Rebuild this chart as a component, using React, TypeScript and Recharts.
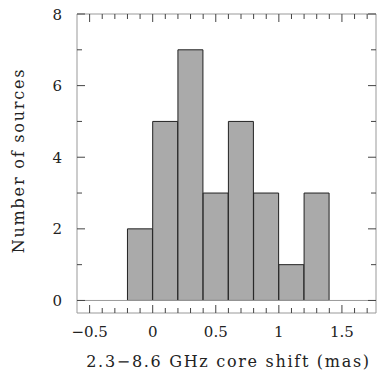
import React from 'react';
import { BarChart, Bar, XAxis, YAxis, ReferenceLine } from 'recharts';

const binCenters = [-0.1, 0.1, 0.3, 0.5, 0.7, 0.9, 1.1, 1.3];
const counts = [2, 5, 7, 3, 5, 3, 1, 3];
const xTicks = [-0.5, -0.4, -0.3, -0.2, -0.1, 0, 0.1, 0.2, 0.3, 0.4, 0.5, 0.6, 0.7, 0.8, 0.9, 1, 1.1, 1.2, 1.3, 1.4, 1.5, 1.6, 1.7];
const xMajorValues = [-0.5, 0, 0.5, 1, 1.5];
const xMajorLabels = ['\u22120.5', '0', '0.5', '1', '1.5'];
const yTicks = [0, 1, 2, 3, 4, 5, 6, 7, 8];
const yMajorValues = [0, 2, 4, 6, 8];
const yMajorLabels = ['0', '2', '4', '6', '8'];
const xTitle = '2.3\u22128.6 GHz core shift (mas)';
const yTitle = 'Number of sources';

const data = binCenters.map((c, i) => ({ center: c, count: counts[i] }));

const FONT = '"DejaVu Serif", serif';
const TICK = '#444';
const FRAME = '#999';

const majorIndex = (vals: number[], v: number) => vals.findIndex((m) => Math.abs(m - v) < 1e-6);

const BottomTick = (p: any) => {
  const { x, y, payload } = p;
  const i = majorIndex(xMajorValues, payload.value);
  const len = i >= 0 ? 8 : 5;
  return (
    <g>
      <line x1={x} x2={x} y1={y} y2={y - len} stroke={TICK} />
      {i >= 0 && (
        <text x={x} y={y + 24} textAnchor="middle" fontFamily={FONT} fontSize={15} fill="#222">
          {xMajorLabels[i]}
        </text>
      )}
    </g>
  );
};

const TopTick = (p: any) => {
  const { x, y, payload } = p;
  const i = majorIndex(xMajorValues, payload.value);
  const len = i >= 0 ? 8 : 5;
  return <line x1={x} x2={x} y1={y} y2={y + len} stroke={TICK} />;
};

const LeftTick = (p: any) => {
  const { x, y, payload } = p;
  const i = majorIndex(yMajorValues, payload.value);
  const len = i >= 0 ? 8 : 5;
  return (
    <g>
      <line x1={x} x2={x + len} y1={y} y2={y} stroke={TICK} />
      {i >= 0 && (
        <text x={x - 15} y={y + 5.5} textAnchor="end" fontFamily={FONT} fontSize={15} fill="#222">
          {yMajorLabels[i]}
        </text>
      )}
    </g>
  );
};

const RightTick = (p: any) => {
  const { x, y, payload } = p;
  const i = majorIndex(yMajorValues, payload.value);
  const len = i >= 0 ? 8 : 5;
  return <line x1={x} x2={x - len} y1={y} y2={y} stroke={TICK} />;
};

const XTitle = (p: any) => {
  const vb = p.viewBox || { x: 77, y: 313, width: 299, height: 61 };
  return (
    <text x={vb.x + vb.width / 2 + 2} y={vb.y + 54} textAnchor="middle" fontFamily={FONT} fontSize={16} letterSpacing={1.7} fill="#222">
      {xTitle}
    </text>
  );
};

const YTitle = (p: any) => {
  const vb = p.viewBox || { x: 0, y: 14, width: 77, height: 299 };
  const cx = vb.x + 24;
  const cy = vb.y + vb.height / 2 - 3;
  return (
    <text x={cx} y={cy} transform={`rotate(-90 ${cx} ${cy})`} textAnchor="middle" fontFamily={FONT} fontSize={16} letterSpacing={1.8} fill="#222">
      {yTitle}
    </text>
  );
};

export default function App() {
  return (
    <div style={{ position: 'absolute', left: 0, top: 0 }}>
      <BarChart width={378} height={374} data={data} margin={{ top: 13, right: 1, bottom: 0, left: 0 }} barCategoryGap={0} barGap={0}>
        <XAxis
          dataKey="center"
          type="number"
          domain={[-0.6, 1.77]}
          allowDataOverflow
          ticks={xTicks}
          interval={0}
          tick={<BottomTick />}
          tickLine={false}
          tickSize={0}
          tickMargin={0}
          axisLine={{ stroke: FRAME }}
          height={61}
          label={{ content: <XTitle /> }}
        />
        <XAxis
          xAxisId="top"
          dataKey="center"
          type="number"
          orientation="top"
          domain={[-0.6, 1.77]}
          allowDataOverflow
          ticks={xTicks}
          interval={0}
          tick={<TopTick />}
          tickLine={false}
          tickSize={0}
          tickMargin={0}
          axisLine={{ stroke: FRAME }}
          height={1}
        />
        <YAxis
          type="number"
          domain={[-0.35, 8]}
          allowDataOverflow
          ticks={yTicks}
          interval={0}
          tick={<LeftTick />}
          tickLine={false}
          tickSize={0}
          tickMargin={0}
          axisLine={{ stroke: FRAME }}
          width={77}
          label={{ content: <YTitle /> }}
        />
        <YAxis
          yAxisId="right"
          orientation="right"
          type="number"
          domain={[-0.35, 8]}
          allowDataOverflow
          ticks={yTicks}
          interval={0}
          tick={<RightTick />}
          tickLine={false}
          tickSize={0}
          tickMargin={0}
          axisLine={{ stroke: FRAME }}
          width={1}
        />
        <ReferenceLine y={0} stroke={FRAME} />
        <Bar dataKey="count" fill="#aaaaaa" stroke="#222" strokeWidth={1} isAnimationActive={false} />
      </BarChart>
    </div>
  );
}
